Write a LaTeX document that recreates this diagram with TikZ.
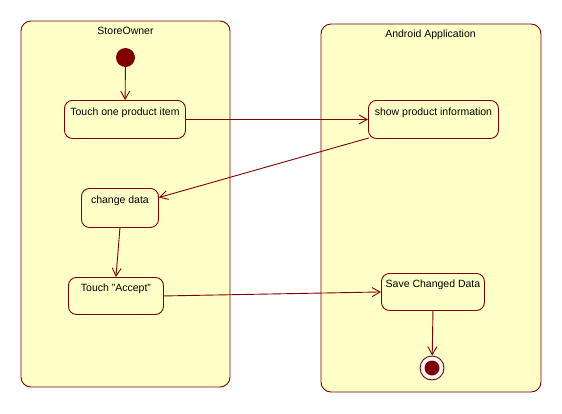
\documentclass[tikz,border=0pt]{standalone}
\usepackage{fontspec}
\setmainfont{Liberation Sans}
\usetikzlibrary{arrows.meta}
\definecolor{lanefill}{RGB}{255,255,200}
\definecolor{umlred}{RGB}{128,0,0}
\begin{document}
\begin{tikzpicture}[x=1pt,y=-1pt,
  font=\fontsize{10.5}{12}\selectfont,
  lane/.style={draw=umlred, fill=lanefill, line width=0.9pt, rounded corners=10pt, inner sep=0pt},
  lanetitle/.style={inner sep=0pt},
  state/.style={draw=umlred, fill=lanefill, line width=0.9pt, rounded corners=8pt,
    inner xsep=0pt, inner ysep=0pt, anchor=north west, align=center},
  flow/.style={draw=umlred, line width=0.9pt, -{Straight Barb[length=8pt,width=9pt,line width=0.9pt]}},
  startnode/.style={circle, fill=umlred, inner sep=0pt, minimum size=19pt},
  endouter/.style={circle, draw=umlred, fill=white, line width=0.9pt, inner sep=0pt, minimum size=24pt},
  endinner/.style={circle, fill=umlred, inner sep=0pt, minimum size=15pt}]
\useasboundingbox (0,0) rectangle (562,413);
\fill[white] (0,0) rectangle (562,413);

% swimlanes
\node[lane, minimum width=209pt, minimum height=366pt] (ownerlane) at (125.5,204) {};
\node[lane, minimum width=220pt, minimum height=368pt] (applane) at (431,208) {};
\node[lanetitle] (ownertitle) at (125.5,31) {StoreOwner};
\node[lanetitle] (apptitle) at (430.5,35) {Android Application};

% start and end
\node[startnode] (init) at (125.5,57.5) {};
\node[endouter] (final) at (432,368) {};
\node[endinner] (finaldot) at (432,368) {};

% activities
\node[state, minimum width=121pt, text height=15pt, text depth=23pt] (touch) at (64,100) {Touch one product item};
\node[state, minimum width=130pt, text height=15pt, text depth=23pt] (show) at (368,100) {show product information};
\node[state, minimum width=77pt, text height=15pt, text depth=24pt] (change) at (81,188) {change data};
\node[state, minimum width=95pt, text height=14pt, text depth=23pt] (accept) at (68,277) {Touch "Accept"};
\node[state, minimum width=103pt, text height=14pt, text depth=23pt] (save) at (381,273) {Save Changed Data};

% transitions
\draw[flow] (init) -- (touch);
\draw[flow] (touch.east) -- (show.west);
\draw[flow] ([shift={(1,-1)}]show.south west) -- (change.15);
\draw[flow] (change.south) -- (accept.north);
\draw[flow] (accept.east) -- (save.west);
\draw[flow] (save.south) -- (final);
\end{tikzpicture}
\end{document}
